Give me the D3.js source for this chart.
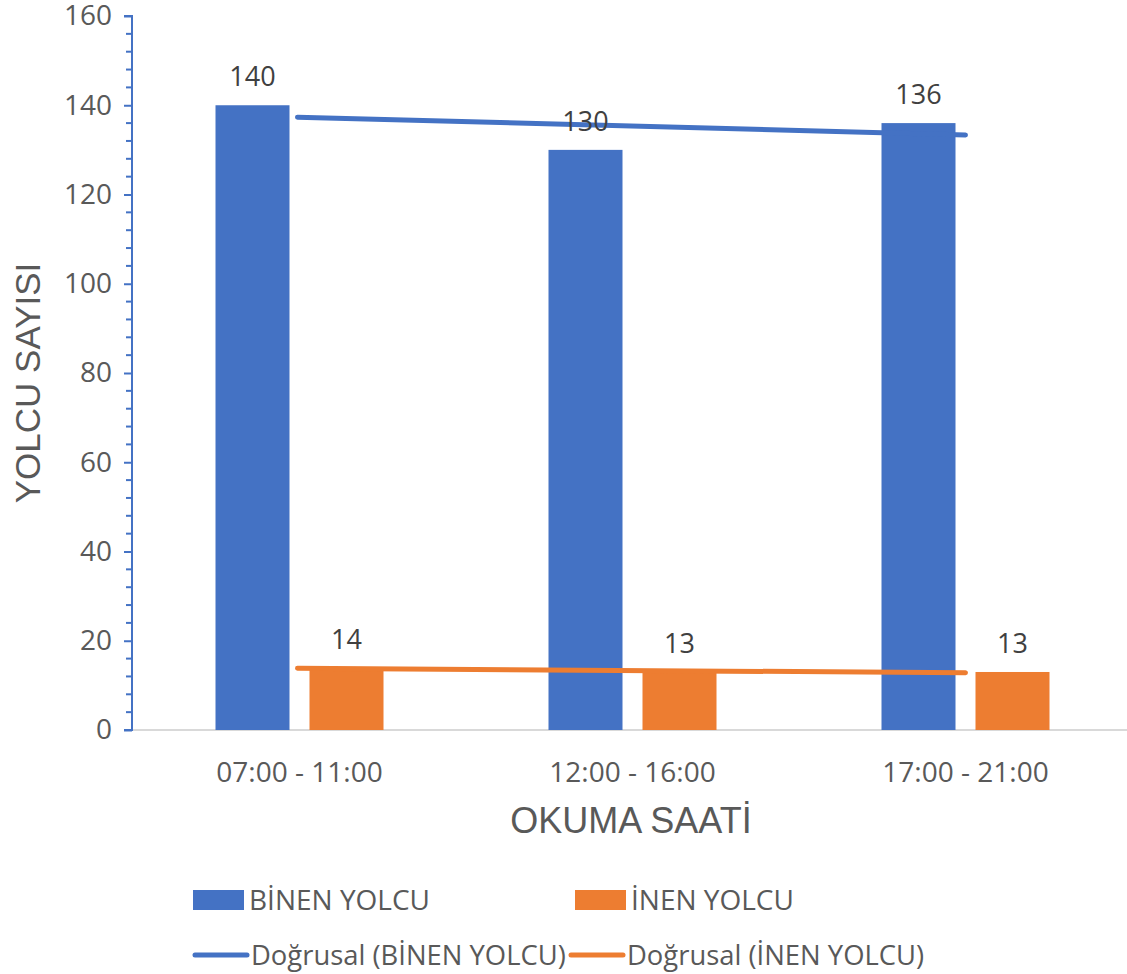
<!DOCTYPE html>
<html><head><meta charset="utf-8">
<script src="https://cdn.jsdelivr.net/npm/d3@7"></script>
<style>body{margin:0;background:#fff}</style>
</head><body>
<svg id="c" width="1127" height="974"></svg>
<script>
const categories = ["07:00 - 11:00", "12:00 - 16:00", "17:00 - 21:00"];
const binen = [140, 130, 136];
const inen = [14, 13, 13];
const seriesNames = ["BİNEN YOLCU", "İNEN YOLCU"];
const trendNames = ["Doğrusal (BİNEN YOLCU)", "Doğrusal (İNEN YOLCU)"];
const yTicks = [0, 20, 40, 60, 80, 100, 120, 140, 160];
const colors = ["#4472C4", "#ED7D31"];

(function () {
const svg = d3.select("#c");
const mLeft = 133, mRight = 1132, mTop = 16, mBottom = 730;
const x = d3.scaleBand().domain(categories).range([mLeft, mRight]);
const y = d3.scaleLinear().domain([0, 160]).range([mBottom, mTop]);
const barW = 74, gap = 20;
const font = "'Open Sans', sans-serif";

svg.append("line").attr("x1", mLeft).attr("x2", 1127).attr("y1", y(0)).attr("y2", y(0))
  .attr("stroke", "#d9d9d9").attr("stroke-width", 2);

const series = [binen, inen];
const barX = (i, si) => x(categories[i]) + x.bandwidth() / 2 - (barW + gap / 2) + si * (barW + gap);
series.forEach((vals, si) => {
  svg.append("g").selectAll("rect").data(vals).join("rect")
    .attr("x", (d, i) => barX(i, si))
    .attr("width", barW)
    .attr("y", d => y(d))
    .attr("height", d => y(0) - y(d))
    .attr("fill", colors[si]);
});

function linreg(vals) {
  const xs = vals.map((_, i) => i + 1);
  const mx = d3.mean(xs), my = d3.mean(vals);
  const b = d3.sum(xs.map((xx, i) => (xx - mx) * (vals[i] - my))) / d3.sum(xs.map(xx => (xx - mx) ** 2));
  const a = my - b * mx;
  return xs.map(xx => a + b * xx);
}
series.forEach((vals, si) => {
  const fit = linreg(vals);
  const x0 = x(categories[0]) + x.bandwidth() / 2 - 2;
  const x1 = x(categories[2]) + x.bandwidth() / 2;
  svg.append("line")
    .attr("x1", x0).attr("y1", y(fit[0]))
    .attr("x2", x1).attr("y2", y(fit[2]))
    .attr("stroke", colors[si]).attr("stroke-width", 5).attr("stroke-linecap", "round");
});

series.forEach((vals, si) => {
  svg.append("g").selectAll("text").data(vals).join("text")
    .attr("x", (d, i) => barX(i, si) + barW / 2)
    .attr("y", d => y(d) - 19)
    .attr("text-anchor", "middle")
    .attr("font-family", font).attr("font-size", 27).attr("fill", "#404040")
    .text(d => d);
});

const yAxis = d3.axisLeft(y).tickValues(yTicks).tickSize(8).tickFormat(d3.format("d"));
const ga = svg.append("g").attr("transform", `translate(${mLeft - 1},0)`).call(yAxis);
ga.select(".domain").attr("stroke", "#4472C4").attr("stroke-width", 2).attr("d", `M-8,${y(160)}H0V${y(0)}H-8`);
ga.selectAll(".tick line").attr("stroke", "#4472C4").attr("stroke-width", 2);
ga.selectAll(".tick text").attr("font-family", font).attr("font-size", 28).attr("fill", "#595959").attr("x", -20);
const minor = d3.range(0, 161, 4).filter(v => v % 20 !== 0);
svg.append("g").selectAll("line").data(minor).join("line")
  .attr("x1", mLeft - 7).attr("x2", mLeft - 1).attr("y1", d => y(d)).attr("y2", d => y(d))
  .attr("stroke", "#4472C4").attr("stroke-width", 2);

svg.append("g").selectAll("text").data(categories).join("text")
  .attr("x", d => x(d) + x.bandwidth() / 2).attr("y", 782)
  .attr("text-anchor", "middle").attr("font-family", font).attr("font-size", 28).attr("fill", "#595959")
  .text(d => d);

svg.append("text").attr("x", 631).attr("y", 833).attr("text-anchor", "middle")
  .attr("font-family", "'Liberation Sans', Arial, sans-serif").attr("font-size", 36).attr("fill", "#595959")
  .text("OKUMA SAATİ");
svg.append("text").attr("transform", "translate(40,383) rotate(-90)").attr("text-anchor", "middle")
  .attr("font-family", "'Liberation Sans', Arial, sans-serif").attr("font-size", 35).attr("fill", "#595959")
  .text("YOLCU SAYISI");

const legX = [193, 575];
seriesNames.forEach((n, i) => {
  svg.append("rect").attr("x", legX[i]).attr("y", 890).attr("width", 51).attr("height", 20).attr("fill", colors[i]);
  svg.append("text").attr("x", legX[i] + 56).attr("y", 910).attr("font-family", font).attr("font-size", 28)
    .attr("fill", "#595959").text(n);
});
const legX2 = [193, 569];
trendNames.forEach((n, i) => {
  svg.append("line").attr("x1", legX2[i] + 2).attr("x2", legX2[i] + 54).attr("y1", 955).attr("y2", 955)
    .attr("stroke", colors[i]).attr("stroke-width", 5).attr("stroke-linecap", "round");
  svg.append("text").attr("x", legX2[i] + 58).attr("y", 965).attr("font-family", font).attr("font-size", 27.4)
    .attr("fill", "#595959").text(n);
});
})();
</script>
</body></html>
